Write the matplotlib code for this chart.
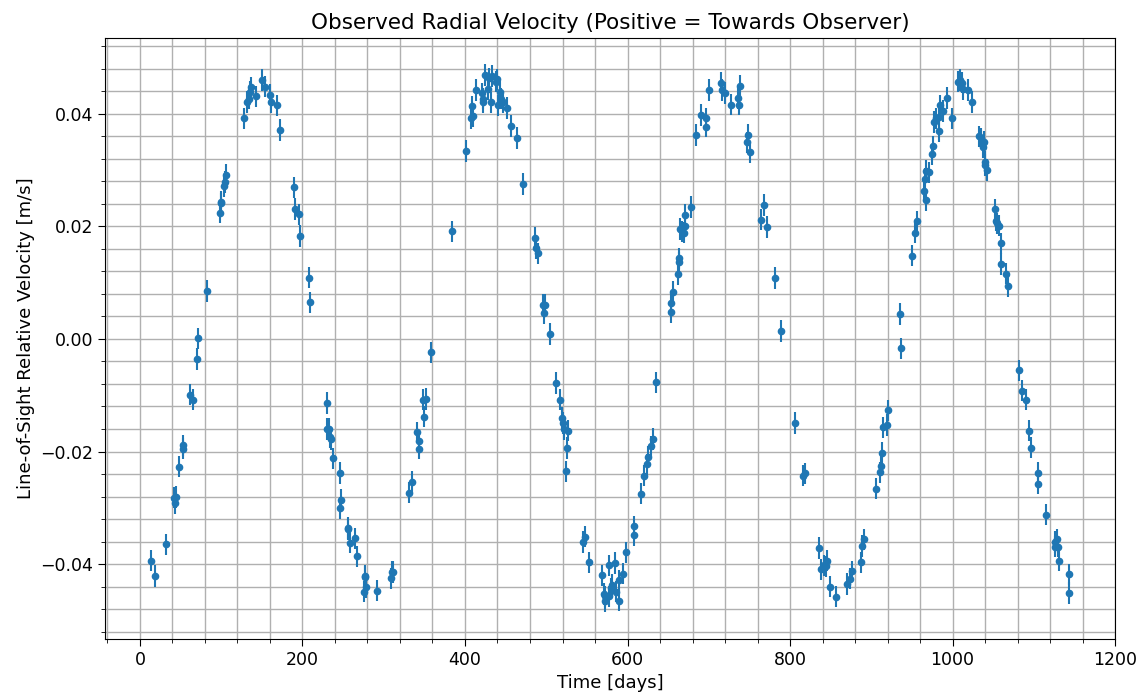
"""
Observed radial velocity curve: line-of-sight velocity vs time with errorbars.
"""

import matplotlib
matplotlib.use("Agg")
import matplotlib.pyplot as plt
from matplotlib.ticker import AutoMinorLocator

# ── Data ──────────────────────────────────────
time_days = [
    13.1, 18.1, 31.6, 41.8, 42.7, 43.9, 48.0, 52.5, 52.9, 61.9,
    65.6, 69.7, 71.4, 82.9, 98.1, 99.7, 100.3, 103.0, 105.0, 105.4,
    128.0, 131.3, 133.7, 135.0, 136.2, 143.2, 150.5, 153.8, 160.0, 161.6,
    168.6, 172.7, 189.5, 190.8, 195.3, 197.3, 208.4, 208.8, 229.7, 230.5,
    233.0, 233.4, 235.5, 237.1, 246.2, 246.6, 247.8, 255.5, 256.5, 258.5,
    264.6, 266.7, 275.7, 276.4, 277.5, 278.2, 291.3, 309.3, 309.6, 311.0,
    331.0, 335.2, 340.9, 343.0, 343.4, 347.9, 349.9, 351.6, 358.2, 384.4,
    400.9, 407.8, 408.6, 409.8, 413.5, 420.9, 421.8, 422.2, 425.0, 427.9,
    429.5, 432.0, 432.8, 438.5, 439.8, 441.0, 443.0, 444.3, 447.1, 451.3,
    457.0, 464.0, 471.8, 485.8, 487.4, 489.8, 496.4, 497.2, 498.0, 505.0,
    512.4, 517.3, 519.8, 521.0, 521.8, 524.3, 525.1, 526.4, 545.6, 547.7,
    553.0, 568.6, 571.1, 572.3, 572.8, 576.8, 577.6, 580.0, 581.3, 584.6,
    585.8, 589.1, 589.6, 594.8, 597.7, 607.6, 608.4, 617.0, 620.7, 624.4,
    624.9, 628.5, 631.4, 634.7, 653.1, 653.5, 655.6, 662.5, 663.4, 663.8,
    664.6, 667.1, 669.5, 670.4, 671.1, 678.5, 684.3, 690.1, 696.2, 697.0,
    700.3, 715.5, 716.3, 720.4, 727.8, 735.6, 736.9, 738.1, 747.5, 748.7,
    750.8, 764.7, 768.4, 771.3, 781.5, 788.5, 806.2, 816.4, 818.0, 835.3,
    838.2, 842.0, 844.3, 845.2, 848.8, 856.2, 869.7, 874.2, 876.3, 887.4,
    888.6, 890.7, 905.5, 910.4, 912.4, 913.6, 914.8, 919.8, 920.2, 935.8,
    936.6, 949.8, 954.3, 956.0, 965.3, 966.2, 967.0, 967.4, 970.7, 974.4,
    975.6, 977.2, 979.3, 983.0, 983.8, 984.6, 987.9, 992.8, 999.0, 1006.8,
    1009.2, 1011.7, 1012.6, 1019.5, 1024.4, 1032.6, 1035.5, 1037.9, 1039.1, 1039.4,
    1039.6, 1042.1, 1052.3, 1053.2, 1055.1, 1057.6, 1059.3, 1059.8, 1065.8, 1068.7,
    1081.4, 1085.9, 1090.5, 1093.8, 1096.2, 1104.9, 1105.2, 1114.7, 1125.8, 1126.2,
    1128.2, 1129.8, 1131.5, 1143.0, 1143.4,
]

velocity = [
    -0.0394, -0.0421, -0.0365, -0.0282, -0.0292, -0.0281, -0.0227, -0.0195, -0.0189, -0.0099,
    -0.0108, -0.0036, 0.0001, 0.0085, 0.0224, 0.0241, 0.0244, 0.0271, 0.0279, 0.0291,
    0.0392, 0.0421, 0.0427, 0.0439, 0.0447, 0.0431, 0.0460, 0.0448, 0.0434, 0.0420,
    0.0415, 0.0371, 0.0269, 0.0231, 0.0221, 0.0183, 0.0109, 0.0065, -0.0114, -0.0160,
    -0.0160, -0.0175, -0.0178, -0.0212, -0.0238, -0.0300, -0.0286, -0.0336, -0.0338, -0.0362,
    -0.0354, -0.0386, -0.0449, -0.0421, -0.0423, -0.0441, -0.0447, -0.0425, -0.0414, -0.0414,
    -0.0273, -0.0254, -0.0166, -0.0195, -0.0182, -0.0108, -0.0138, -0.0107, -0.0024, 0.0191,
    0.0334, 0.0392, 0.0413, 0.0396, 0.0442, 0.0436, 0.0427, 0.0420, 0.0469, 0.0443,
    0.0463, 0.0420, 0.0467, 0.0457, 0.0461, 0.0415, 0.0439, 0.0427, 0.0421, 0.0410,
    0.0378, 0.0357, 0.0275, 0.0179, 0.0161, 0.0152, 0.0060, 0.0046, 0.0060, 0.0009,
    -0.0078, -0.0108, -0.0140, -0.0149, -0.0160, -0.0235, -0.0194, -0.0163, -0.0361, -0.0351,
    -0.0397, -0.0420, -0.0453, -0.0457, -0.0466, -0.0402, -0.0457, -0.0443, -0.0437, -0.0398,
    -0.0449, -0.0429, -0.0465, -0.0417, -0.0379, -0.0349, -0.0333, -0.0275, -0.0243, -0.0223,
    -0.0209, -0.0191, -0.0178, -0.0077, 0.0063, 0.0047, 0.0084, 0.0115, 0.0136, 0.0143,
    0.0195, 0.0191, 0.0189, 0.0220, 0.0201, 0.0234, 0.0362, 0.0398, 0.0377, 0.0392,
    0.0442, 0.0455, 0.0442, 0.0437, 0.0416, 0.0428, 0.0416, 0.0449, 0.0349, 0.0363,
    0.0332, 0.0212, 0.0238, 0.0199, 0.0108, 0.0014, -0.0149, -0.0243, -0.0239, -0.0371,
    -0.0409, -0.0402, -0.0404, -0.0394, -0.0440, -0.0458, -0.0435, -0.0426, -0.0413, -0.0397,
    -0.0368, -0.0356, -0.0266, -0.0237, -0.0225, -0.0202, -0.0157, -0.0153, -0.0127, 0.0044,
    -0.0017, 0.0148, 0.0189, 0.0209, 0.0262, 0.0284, 0.0298, 0.0247, 0.0296, 0.0328,
    0.0342, 0.0385, 0.0392, 0.0394, 0.0369, 0.0415, 0.0405, 0.0428, 0.0392, 0.0457,
    0.0460, 0.0455, 0.0443, 0.0442, 0.0421, 0.0360, 0.0356, 0.0341, 0.0350, 0.0309,
    0.0315, 0.0300, 0.0230, 0.0210, 0.0205, 0.0201, 0.0170, 0.0133, 0.0116, 0.0094,
    -0.0056, -0.0092, -0.0108, -0.0163, -0.0193, -0.0257, -0.0238, -0.0312, -0.0369, -0.0361,
    -0.0356, -0.0369, -0.0394, -0.0451, -0.0418,
]

VEL_ERR = 0.0019  # same uncertainty on every point

# ── Plot ──────────────────────────────────────
fig, ax = plt.subplots(figsize=(11.44, 6.98), dpi=100)
fig.subplots_adjust(left=0.0918, right=0.9747, top=0.946, bottom=0.0845)

ax.errorbar(time_days, velocity, yerr=VEL_ERR, fmt="o", color="#1f77b4",
            markersize=4.5, elinewidth=1.5, capsize=0)

ax.set_title("Observed Radial Velocity (Positive = Towards Observer)", fontsize=15.5)
ax.set_xlabel("Time [days]", fontsize=13)
ax.set_ylabel("Line-of-Sight Relative Velocity [m/s]", fontsize=13)

ax.set_xlim(-43, 1200)
ax.set_ylim(-0.0533, 0.0535)
ax.xaxis.set_minor_locator(AutoMinorLocator(5))
ax.yaxis.set_minor_locator(AutoMinorLocator(5))
ax.tick_params(axis="both", which="major", labelsize=12.5, length=5)
ax.tick_params(axis="both", which="minor", length=3)
ax.grid(True, which="both", color="#b0b0b0", linewidth=1.0)
ax.set_axisbelow(True)

plt.savefig("out.png", dpi=100)
